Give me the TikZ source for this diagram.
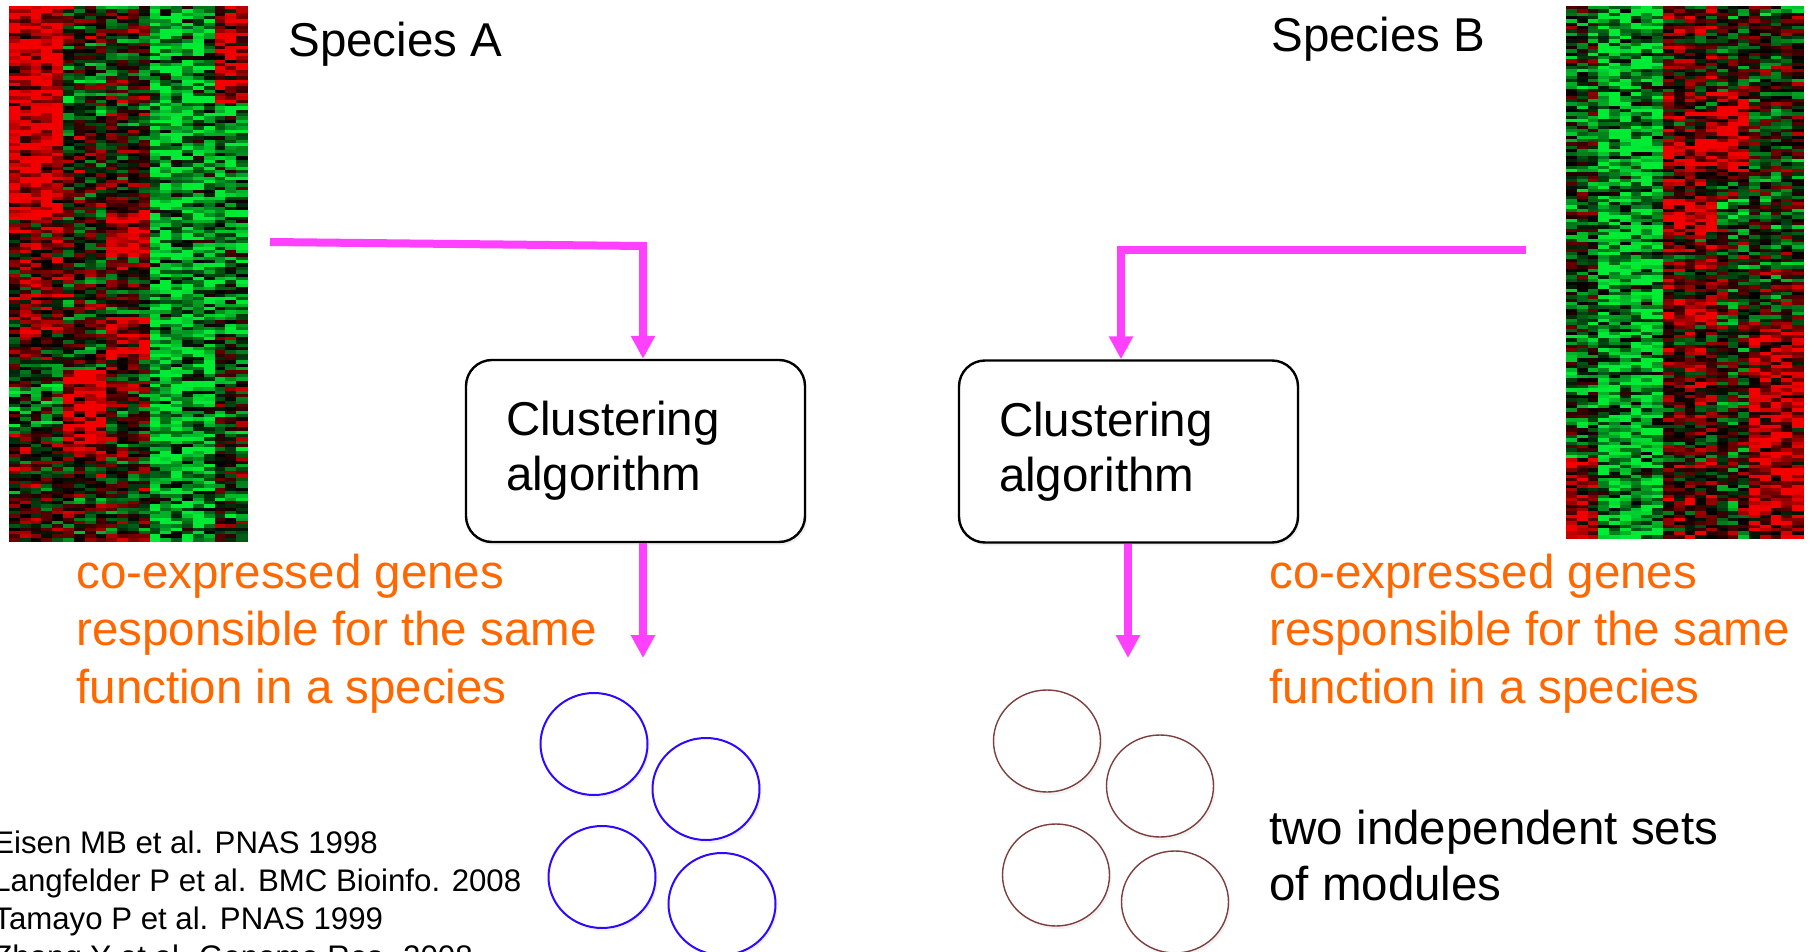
\documentclass[tikz,border=0pt]{standalone}
\usepackage{fontspec}
\setmainfont{Liberation Sans}
\usetikzlibrary{arrows.meta,shapes.geometric,shadows}

\definecolor{linkmag}{RGB}{255,64,255}
\definecolor{noteorange}{RGB}{255,104,0}
\definecolor{modblue}{RGB}{45,10,255}
\definecolor{modbrown}{RGB}{125,62,62}

\newcommand{\diagbig}{\fontsize{23.75pt}{27.5pt}\selectfont}
\newcommand{\diagnote}{\fontsize{23.75pt}{28.75pt}\selectfont}
\newcommand{\diagpair}{\fontsize{23.75pt}{28pt}\selectfont}
\newcommand{\diagsmall}{\fontsize{15.6pt}{19pt}\selectfont}

% expression-level patterns for the two expression matrices
% (\hmC = column fraction, \hmW = row fraction)
\newcommand{\biasA}{((\hmC<0.23)*((\hmW<0.4)*0.95+(\hmW>0.4)*(\hmW<0.66)*0.35+(\hmW>0.66)*(\hmW<0.8)*(-0.35)+(\hmW>0.8)*0.1)
 +(\hmC>0.23)*(\hmC<0.6)*(0.05+(\hmC>0.42)*(\hmW>0.38)*(\hmW<0.47)*0.8+(\hmC<0.42)*(\hmW>0.68)*(\hmW<0.84)*0.8+(\hmC>0.42)*(\hmW>0.58)*(\hmW<0.66)*0.7-(\hmC<0.42)*(\hmW>0.1)*(\hmW<0.22)*0.3)
 +(\hmC>0.6)*(\hmC<0.88)*(-0.7)
 +(\hmC>0.88)*((\hmW<0.18)*0.7+(\hmW>0.18)*(\hmW<0.62)*(-0.5)+(\hmW>0.62)*(-0.1)))}
\newcommand{\biasB}{((\hmC<0.14)*((\hmW<0.85)*(-0.25)+(\hmW>0.85)*0.6)
 +(\hmC>0.14)*(\hmC<0.41)*(-0.7)
 +(\hmC>0.41)*(\hmC<0.63)*(0.25+(\hmW>0.36)*(\hmW<0.42)*0.6+(\hmW>0.55)*(\hmW<0.6)*0.6+(\hmW>0.25)*(\hmW<0.3)*0.5)
 +(\hmC>0.63)*(\hmC<0.77)*(-0.05+(\hmW>0.16)*(\hmW<0.31)*0.9+(\hmW>0.36)*(\hmW<0.4)*(-0.6))
 +(\hmC>0.77)*((\hmW<0.6)*(-0.05)+(\hmW>0.6)*0.7))}

% #1,#2 = top-left corner, #3 = cell width, #4 = cell height, #5 = pattern
\newcommand{\hmgrid}[5]{%
  \foreach \i in {0,...,21}{%
    \foreach \j in {0,...,159}{%
      \pgfmathsetmacro{\hmC}{(\i+0.5)/22}%
      \pgfmathsetmacro{\hmW}{(\j+0.5)/160}%
      \pgfmathsetmacro{\hmV}{#5+0.65*rand+0.3*sin(\j*71.3+floor(\hmC*7)*97)}%
      \pgfmathsetmacro{\hmR}{0.95*max(0,min(1,\hmV))}%
      \pgfmathsetmacro{\hmG}{0.92*max(0,min(1,-\hmV))}%
      \pgfmathsetmacro{\hmB}{0.22*\hmG}%
      \definecolor{hmcell}{rgb}{\hmR,\hmG,\hmB}%
      \fill[hmcell] ({#1+\i*#3},{#2+\j*#4}) rectangle ++({#3+0.6},{#4+0.6});
    }%
  }%
}

\begin{document}
\begin{tikzpicture}[x=0.5pt,y=-0.5pt,
  flow/.style={draw=linkmag, line width=4pt,
    -{Triangle[length=11.5pt,width=11.5pt]}},
  algbox/.style={draw=black, line width=1.2pt, rounded corners=13pt,
    fill=white, minimum height=91pt, text width=129.5pt,
    inner xsep=20pt, inner ysep=0pt, align=left, font=\diagbig,
    drop shadow={opacity=0.12, shadow xshift=1pt, shadow yshift=-1.5pt}},
  modA/.style={ellipse, draw=modblue, line width=1pt, fill=white,
    minimum width=53.5pt, minimum height=51pt, inner sep=0pt,
    drop shadow={opacity=0.1, shadow xshift=1pt, shadow yshift=-1.5pt}},
  modB/.style={modA, draw=modbrown, line width=0.7pt},
  plain/.style={anchor=base west, inner sep=0pt, align=left}]

\clip (0,0) rectangle (1816,952);
\fill[white] (0,0) rectangle (1816,952);

% expression matrices
\pgfmathsetseed{4711}
\hmgrid{9}{6}{10.818}{3.344}{\biasA}
\hmgrid{1566}{6}{10.773}{3.325}{\biasB}

% titles
\node[plain, font=\diagbig] (spA) at (288,57) {Species A};
\node[plain, font=\diagbig] (spB) at (1271,52) {Species B};

% clustering steps
\node[algbox] (algA) at (635.5,451) {Clustering\\algorithm};
\node[algbox] (algB) at (1128.5,451.5) {Clustering\\algorithm};

% connectors
\coordinate (srcA) at (270,242);
\coordinate (bendA) at (643,246);
\coordinate (outA) at (643,658);
\draw[flow] (srcA) -- (bendA) -- (bendA |- algA.north);
\draw[flow] (outA |- algA.south) -- (outA);

\coordinate (srcB) at (1526,250);
\coordinate (bendB) at (1121,250);
\coordinate (outB) at (1128,658);
\draw[flow] (srcB) -- (bendB) -- (bendB |- algB.north);
\draw[flow] (outB |- algB.south) -- (outB);

% notes (anchored on the baseline of their last line)
\node[plain, text=noteorange, font=\diagnote] (noteA) at (76,703)
  {co-expressed genes\\responsible for the same\\function in a species};
\node[plain, text=noteorange, font=\diagnote] (noteB) at (1269,703)
  {co-expressed genes\\responsible for the same\\function in a species};

% modules
\node[modA] (a1) at (594,744) {};
\node[modA] (a2) at (706,789) {};
\node[modA] (a3) at (602,877) {};
\node[modA] (a4) at (722,904) {};
\node[modB] (b1) at (1047,741) {};
\node[modB] (b2) at (1160,786) {};
\node[modB] (b3) at (1056,875) {};
\node[modB] (b4) at (1175,902) {};

\node[plain, font=\diagpair] (pairs) at (1269,900)
  {two independent sets\\of modules};

% references
\node[plain, font=\diagsmall] (refs) at (-7,967)
  {Eisen MB et al. PNAS 1998\\Langfelder P et al. BMC Bioinfo. 2008\\Tamayo P et al. PNAS 1999\\Zhang Y et al. Genome Res. 2008};
\end{tikzpicture}
\end{document}
